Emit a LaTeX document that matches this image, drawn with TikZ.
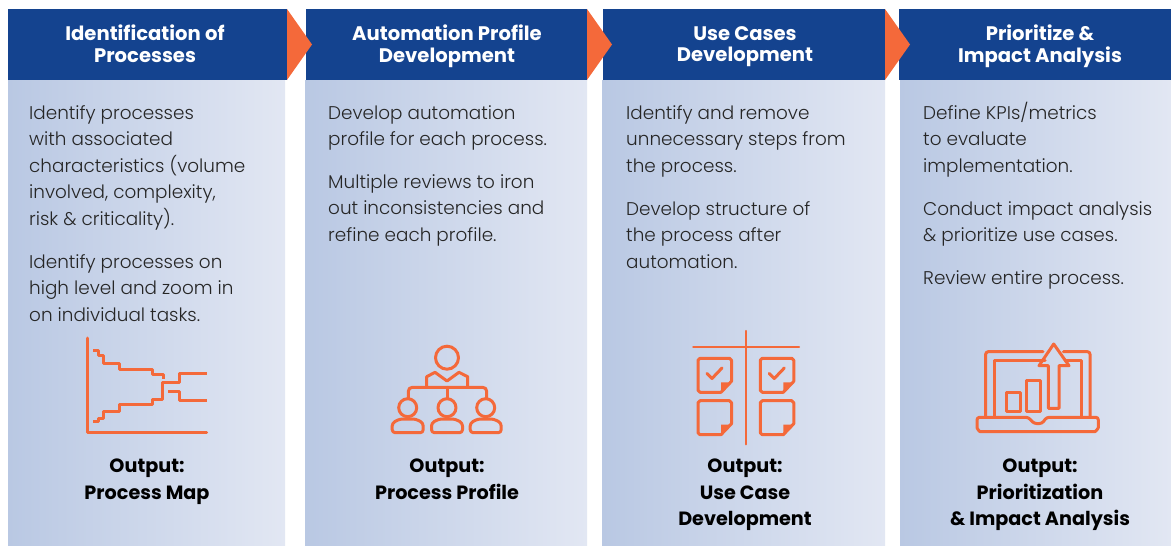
\documentclass[tikz,border=0pt]{standalone}
\usepackage{fontspec}
\setmainfont{Poppins}[UprightFont=* Light,BoldFont=* Bold]
\definecolor{hdr}{HTML}{14438F}
\definecolor{org}{HTML}{F4693A}
\definecolor{pl}{HTML}{B9C8E3}
\definecolor{pr}{HTML}{E2E7F3}
\newcommand{\fh}{\rule{0pt}{15pt}}
\newcommand{\fb}{\rule{0pt}{18.5pt}}
\tikzset{
 x=1pt,y=-1pt,
 panel/.style={left color=pl,right color=pr,draw=none},
 header/.style={fill=hdr,draw=none},
 tipshape/.style={fill=org,draw=none},
 htext/.style={text=white,font=\fontsize{19.6}{21.5}\selectfont\bfseries,align=center,anchor=north,inner sep=0pt},
 body/.style={text=black!85,font=\fontsize{18.4}{26.5}\selectfont,align=left,anchor=north west,inner sep=0pt},
 outtext/.style={text=black,font=\fontsize{19.2}{26.5}\selectfont\bfseries,align=center,anchor=north,inner sep=0pt},
 ic/.style={draw=org,line width=3pt,line join=round,line cap=round},
 icr/.style={ic,rounded corners=2.5pt},
}
\begin{document}
\begin{tikzpicture}
\useasboundingbox (0,0) rectangle (1171,546);
% panels
\fill[panel] (8,80) rectangle (285,546);
\fill[panel] (305,80) rectangle (587,546);
\fill[panel] (602,80) rectangle (885,546);
\fill[panel] (900,80) rectangle (1171,546);
% headers
\fill[header] (8,9) rectangle (287,80);
\fill[header] (306,9) rectangle (587,80);
\fill[header] (603,9) rectangle (885,80);
\fill[header] (899,9) rectangle (1171,80);
% arrows
\fill[tipshape] (287,9) -- (312,44.5) -- (287,80) -- cycle;
\fill[tipshape] (587,9) -- (612,44.5) -- (587,80) -- cycle;
\fill[tipshape] (885,9) -- (910,44.5) -- (885,80) -- cycle;
% header text
\node[htext] (h1) at (145,25) {\fh Identification of\\Processes};
\node[htext] (h2) at (447,25) {\fh Automation Profile\\Development};
\node[htext] (h3) at (745,25) {\fh Use Cases\\Development};
\node[htext] (h4) at (1040,25) {\fh Prioritize \&\\Impact Analysis};
% body
\node[body] (b1a) at (29,100.5) {\fb Identify processes\\with associated\\characteristics (volume\\involved, complexity,\\risk \& criticality).};
\node[body] (b1b) at (29,249.5) {\fb Identify processes on\\high level and zoom in\\on individual tasks.};
\node[body] (b2a) at (328,100.5) {\fb Develop automation\\profile for each process.};
\node[body] (b2b) at (328,169.5) {\fb Multiple reviews to iron\\out inconsistencies and\\refine each profile.};
\node[body] (b3a) at (626,100.5) {\fb Identify and remove\\unnecessary steps from\\the process.};
\node[body] (b3b) at (626,196.5) {\fb Develop structure of\\the process after\\automation.};
\node[body] (b4a) at (923,100.5) {\fb Define KPIs/metrics\\to evaluate\\implementation.};
\node[body] (b4b) at (923,196.5) {\fb Conduct impact analysis\\\& prioritize use cases.};
\node[body] (b4c) at (923,265.5) {\fb Review entire process.};
% output
\node[outtext] (o1) at (147,454) {\fb Output:\\Process Map};
\node[outtext] (o2) at (447,454) {\fb Output:\\Process Profile};
\node[outtext] (o3) at (745,454) {\fb Output:\\Use Case\\Development};
\node[outtext] (o4) at (1040,454) {\fb Output:\\Prioritization\\\& Impact Analysis};
% icon 1
\draw[ic] (87.7,338) -- (87.7,432.7) -- (206.7,432.7);
\draw[ic,line cap=butt] (93.3,350) -- (98.3,350) -- (98.3,355.7) -- (103.3,355.7) -- (103.3,363.3) -- (119.3,363.3) -- (119.3,369.7) -- (152.7,369.7) -- (152.7,374.3) -- (163.3,374.3) -- (163.3,378.7);
\draw[ic,line cap=butt] (93.3,421.7) -- (98.3,421.7) -- (98.3,418.3) -- (103.3,418.3) -- (103.3,411) -- (119.3,411) -- (119.3,404.7) -- (152.7,404.7) -- (152.7,399.3) -- (162.7,399.3) -- (162.7,382.3) -- (179.3,382.3) -- (179.3,373) -- (207,373);
\draw[ic,line cap=butt] (168,391.7) -- (179.3,391.7) -- (179.3,400.7) -- (207,400.7);
% icon 2
\draw[ic] (447,357.7) circle (11.5);
\draw[ic] (426.7,386.7) -- (426.7,376.7) -- (435,372.3) -- (447,381) -- (459,372.3) -- (467.7,376.7) -- (467.7,386.7);
\draw[ic,rounded corners=4pt] (408.3,398.3) -- (408.3,387.3) -- (486.7,387.3) -- (486.7,398.3);
\draw[ic] (447,387.3) -- (447,398.3);
\foreach \cx in {407.7,447,485.7}{
 \draw[ic] (\cx,407.7) circle (9);
 \draw[ic,rounded corners=3pt] (\cx-15.5,432.7) -- (\cx-15.5,423) -- (\cx-8,419) -- (\cx+8,419) -- (\cx+15.5,423) -- (\cx+15.5,432.7) -- cycle;
}
% icon 3
\draw[ic,line width=2.4pt] (693.3,346.7) -- (799,346.7);
\draw[ic,line width=2.4pt] (746,331) -- (746,444.3);
\foreach \nx/\ny in {698/358.3,760.3/358.3,698/400.7,760.3/400.7}{
 \draw[ic,line join=round] (\nx+33.5,\ny+2) -- (\nx+33.5,\ny+23) -- (\nx+23,\ny+34) -- (\nx+2,\ny+34) -- (\nx,\ny+32) -- (\nx,\ny+2) -- (\nx+2,\ny) -- (\nx+31.5,\ny) -- cycle;
 \fill[org] (\nx+23,\ny+24) -- (\nx+33.5,\ny+24) -- (\nx+23,\ny+34) -- cycle;
}
\foreach \nx in {698,760.3}{
 \draw[ic] (\nx+9,373.5) -- (\nx+14,378.5) -- (\nx+24,368);
}
% icon 4
\draw[icr] (977,417.3) -- (1028.3,417.3) -- (1034,423.5) -- (1042,423.5) -- (1046.7,417.3) -- (1098.3,417.3) -- (1098.3,425) .. controls (1098.3,428) and (1096,431.7) .. (1092,431.7) -- (983,431.7) .. controls (979,431.7) and (977,428) .. (977,425) -- cycle;
\draw[icr] (985.7,416.7) -- (985.7,351.7) -- (1043,351.7);
\draw[icr] (1063.3,351.7) -- (1090,351.7) -- (1090,416.7);
\draw[ic] (994.3,416.7) -- (994.3,360) -- (1045,360);
\draw[ic] (1065,360) -- (1081.7,360) -- (1081.7,416.7);
\draw[ic] (1048.3,408.3) -- (1048.3,365.7) -- (1039,365.7) -- (1053.7,344) -- (1069,365.7) -- (1059,365.7) -- (1059,408.3) -- cycle;
\draw[ic] (1006,392.7) rectangle (1020,411);
\draw[ic] (1026.7,380.7) rectangle (1040.7,411);
\end{tikzpicture}
\end{document}
